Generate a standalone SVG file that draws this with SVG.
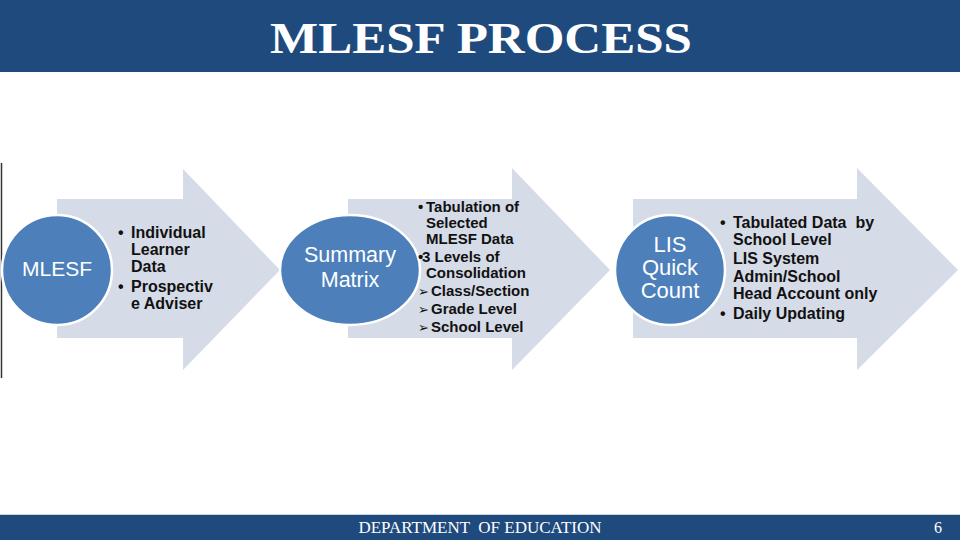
<svg xmlns="http://www.w3.org/2000/svg" width="960" height="540" viewBox="0 0 960 540">
<style>
.bar{fill:#1F4A7E}
.arrow{fill:#D5DBE7}
.circ{fill:#4D7FBB;stroke:#FFFFFF;stroke-width:2.5}
.ctext{font-family:"Liberation Sans",Arial,sans-serif;fill:#FFFFFF;text-anchor:middle}
.btext{font-family:"Liberation Sans",Arial,sans-serif;font-weight:bold;fill:#111111}
.sym{font-family:"DejaVu Sans",sans-serif;font-weight:normal;font-size:13px}
</style>
<rect x="0" y="0" width="960" height="540" fill="#FFFFFF"/>
<g id="header">
<rect class="bar" x="0" y="0" width="960" height="72"/>
<text x="481" y="53" font-family="Liberation Serif,serif" font-weight="bold" font-size="45" fill="#FFFFFF" text-anchor="middle" textLength="422" lengthAdjust="spacingAndGlyphs">MLESF PROCESS</text>
</g>
<line x1="1.5" y1="163" x2="1.5" y2="378" stroke="#333333" stroke-width="1.5"/>
<g id="step1">
<polygon class="arrow" points="57,199 183,199 183,169 280,270 183,370 183,338 57,338"/>
<circle class="circ" cx="57" cy="270" r="55"/>
<text class="ctext" x="57" y="276" font-size="21">MLESF</text>
<g class="btext" font-size="16">
<text x="118" y="238">•</text><text x="131" y="238">Individual</text>
<text x="131" y="255">Learner</text>
<text x="131" y="272">Data</text>
<text x="118" y="292">•</text><text x="131" y="292">Prospectiv</text>
<text x="131" y="309">e Adviser</text>
</g>
</g>
<g id="step2">
<polygon class="arrow" points="348,199 512,199 512,168 610,270 512,370 512,338 348,338"/>
<ellipse class="circ" cx="350" cy="270" rx="70" ry="55"/>
<text class="ctext" x="350" y="262" font-size="21.5">Summary</text>
<text class="ctext" x="350" y="287" font-size="21.5">Matrix</text>
<g class="btext" font-size="15">
<text x="418" y="212">•</text><text x="426" y="212">Tabulation of</text>
<text x="426" y="228">Selected</text>
<text x="426" y="244">MLESF Data</text>
<text x="418" y="262">•</text><text x="422" y="262">3 Levels of</text>
<text x="426" y="278">Consolidation</text>
<text x="418" y="296"><tspan class="sym">➢</tspan><tspan x="431">Class/Section</tspan></text>
<text x="418" y="314"><tspan class="sym">➢</tspan><tspan x="431">Grade Level</tspan></text>
<text x="418" y="332"><tspan class="sym">➢</tspan><tspan x="431">School Level</tspan></text>
</g>
</g>
<g id="step3">
<polygon class="arrow" points="633,199 857,199 857,168 958,270 857,370 857,338 633,338"/>
<circle class="circ" cx="670" cy="270" r="55"/>
<text class="ctext" x="670" y="252" font-size="22">LIS</text>
<text class="ctext" x="670" y="275" font-size="22">Quick</text>
<text class="ctext" x="670" y="298" font-size="22">Count</text>
<g class="btext" font-size="16">
<text x="720" y="228">•</text><text x="733" y="228" xml:space="preserve">Tabulated Data  by</text>
<text x="733" y="245">School Level</text>
<text x="733" y="264">LIS System</text>
<text x="733" y="282">Admin/School</text>
<text x="733" y="299">Head Account only</text>
<text x="720" y="319">•</text><text x="733" y="319">Daily Updating</text>
</g>
</g>
<g id="connectors"></g>
<g id="footer">
<line x1="0" y1="514.5" x2="960" y2="514.5" stroke="#C9D3E0" stroke-width="1"/>
<rect class="bar" x="0" y="515" width="960" height="25"/>
<text x="480" y="533" font-family="Liberation Serif,serif" font-size="17" fill="#FFFFFF" text-anchor="middle" xml:space="preserve">DEPARTMENT  OF EDUCATION</text>
<text x="938" y="533" font-family="Liberation Serif,serif" font-size="16" fill="#FFFFFF" text-anchor="middle">6</text>
</g>
</svg>
